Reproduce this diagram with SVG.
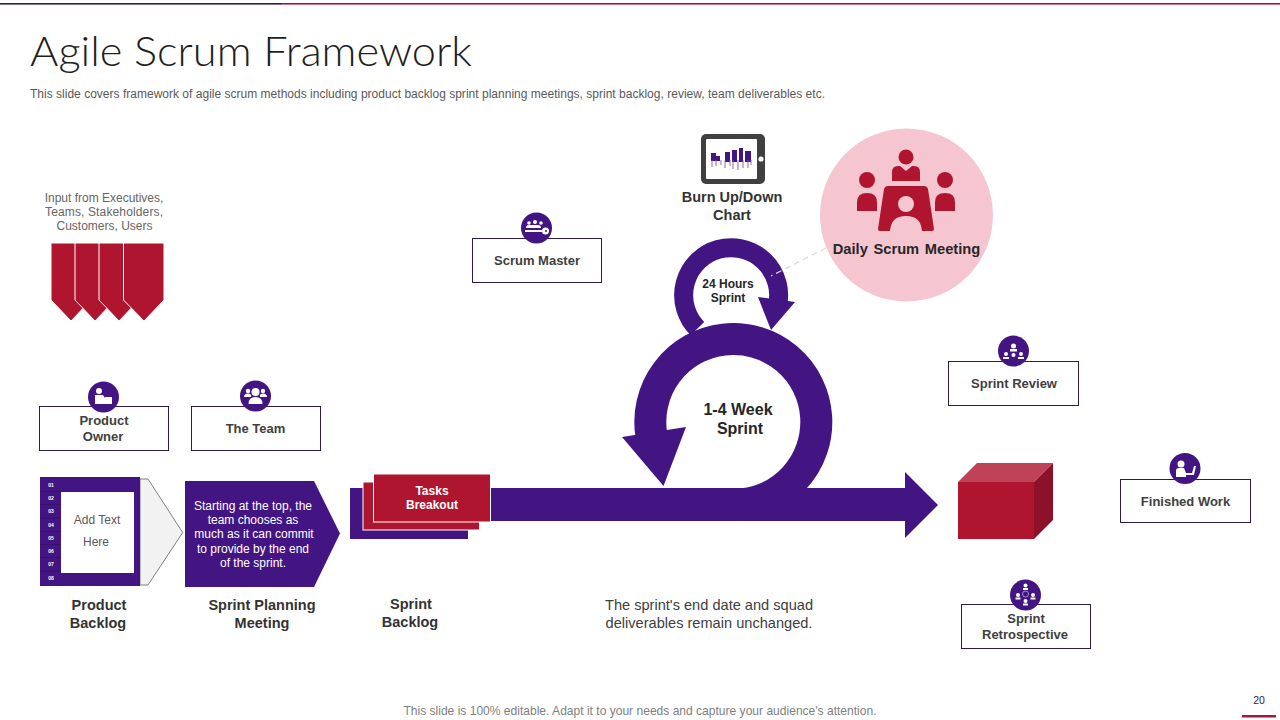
<svg xmlns="http://www.w3.org/2000/svg" width="1280" height="720" viewBox="0 0 1280 720">
<defs>
<style>
text{font-family:"Liberation Sans",Arial,sans-serif;text-anchor:middle}
.box{fill:#fff;stroke:#2e1a52;stroke-width:1}
.lbl{font-size:13px;font-weight:700;fill:#404040}
.cap{font-size:14.5px;font-weight:700;fill:#333}
.dark{fill:#431582}
.red{fill:#b0152f}
.wh{fill:#fff}
.num{font-size:5px;font-weight:700;fill:#fff}
.body{font-size:12px;fill:#fff}
.grey{font-size:12px;fill:#666}
</style>
</defs>
<rect width="1280" height="720" fill="#fff"/>
<g id="topbar"><rect x="0" y="3" width="282" height="1.6" fill="#2e1a52"/><rect x="282" y="3" width="998" height="1.6" fill="#a5173f"/></g>
<text x="30" y="66" textLength="442" lengthAdjust="spacingAndGlyphs" style="font-family:'Lato','Liberation Sans',sans-serif;font-size:42px;font-weight:300;text-anchor:start;fill:#1f1f1f">Agile Scrum Framework</text>
<text x="30" y="98" textLength="795" lengthAdjust="spacing" style="font-size:12px;text-anchor:start;fill:#595959">This slide covers framework of agile scrum methods including product backlog sprint planning meetings, sprint backlog, review, team deliverables etc.</text>

<g id="connectors">
<rect x="488" y="488" width="418" height="33" class="dark"/>
<polygon points="905,472 938,505 905,538" class="dark"/>
<path d="M734 505A83 83 0 1 0 651.500 436" fill="none" stroke="#431582" stroke-width="32"/>
<polygon points="622,437 686,427 663.500,486" class="dark"/>
<path d="M697.400 328.600A47.500 47.500 0 1 1 777.400 306" fill="none" stroke="#431582" stroke-width="19"/>
<polygon points="758,297 795,302 771,330" class="dark"/>
<line x1="826" y1="248" x2="771" y2="276" stroke="#d9d9d9" stroke-width="1.200" stroke-dasharray="6 4"/>
</g>
<text class="lbl" x="728" y="288" style="font-size:12px;fill:#262626">24 Hours</text>
<text class="lbl" x="728" y="302" style="font-size:12px;fill:#262626">Sprint</text>
<text class="lbl" x="738" y="415" style="font-size:16px;fill:#262626">1-4 Week</text>
<text class="lbl" x="740" y="434" style="font-size:16px;fill:#262626">Sprint</text>

<g id="input">
<text class="grey" x="104" y="202">Input from Executives,</text>
<text class="grey" x="104" y="216" textLength="118">Teams, Stakeholders,</text>
<text class="grey" x="104.500" y="230">Customers, Users</text>
<g class="red" stroke="#fff" stroke-width="1">
<polygon points="51,243 91,243 91,300 71,321 51,300"/>
<polygon points="75,243 115,243 115,300 95,321 75,300"/>
<polygon points="99,243 139,243 139,300 119,321 99,300"/>
<polygon points="123.500,243 164,243 164,300 144,321 123.500,300"/>
</g>
</g>

<g id="product-owner">
<rect class="box" x="39.500" y="406.500" width="129" height="44"/>
<circle class="dark" cx="103.500" cy="397" r="15.500"/>
<g class="wh"><circle cx="99" cy="391" r="3"/><path d="M95 395h8l2 3v6H95z"/><rect x="105" y="397" width="7" height="7"/></g>
<text class="lbl" x="104" y="425">Product</text><text class="lbl" x="103" y="441">Owner</text>
</g>
<g id="the-team">
<rect class="box" x="191.500" y="406.500" width="129" height="44"/>
<circle class="dark" cx="255.500" cy="396" r="15.500"/>
<g class="wh"><circle cx="255.500" cy="392" r="4"/><path d="M248.500 404q0-7 7-7t7 7z"/><circle cx="248" cy="391" r="2.200"/><path d="M244 397q0-3.500 4-3.500t3 3.500z"/><circle cx="263" cy="391" r="2.200"/><path d="M260 397q-1-3.500 3-3.500t4 3.500z"/></g>
<text class="lbl" x="255.500" y="433">The Team</text>
</g>
<g id="scrum-master">
<rect class="box" x="472.500" y="238.500" width="129" height="44"/>
<circle class="dark" cx="536.500" cy="228" r="15.500"/>
<g class="wh"><circle cx="529" cy="223" r="1.800"/><circle cx="535" cy="222" r="2"/><circle cx="541" cy="223" r="1.800"/><path d="M526 228q0-3 3-3h9q3 0 3 3z"/><rect x="525" y="230" width="17" height="2"/><circle cx="545.500" cy="231" r="3.500"/></g>
<circle class="dark" cx="546" cy="231" r="1"/>
<text class="lbl" x="537" y="265">Scrum Master</text>
</g>

<g id="product-backlog">
<polygon points="140,479 148,479 182.700,532.500 148,585 140,585" fill="#f2f2f2" stroke="#808080" stroke-width="1"/>
<rect class="dark" x="40" y="477" width="100" height="109"/>
<rect class="wh" x="61" y="492" width="73" height="81"/>
<path d="M40 491.500H61M40 504.500H61M40 518H61M40 531.500H61M40 544.500H61M40 557.500H61M40 571H61" stroke="#35106a" stroke-width="0.800"/>
<text class="num" x="51" y="487">01</text><text class="num" x="51" y="500">02</text><text class="num" x="51" y="513">03</text><text class="num" x="51" y="527">04</text><text class="num" x="51" y="540">05</text><text class="num" x="51" y="553">06</text><text class="num" x="51" y="566">07</text><text class="num" x="51" y="580">08</text>
<text x="97" y="524" style="font-size:12px;fill:#595959">Add Text</text>
<text x="96" y="546" style="font-size:12px;fill:#595959">Here</text>
<text class="cap" x="99" y="610">Product</text><text class="cap" x="98" y="628">Backlog</text>
</g>
<g id="sprint-planning">
<polygon class="dark" points="185,481 314,481 340,533.500 314,587 185,587"/>
<text class="body" x="253" y="510">Starting at the top, the</text>
<text class="body" x="253" y="524">team chooses as</text>
<text class="body" x="254" y="538">much as it can commit</text>
<text class="body" x="253" y="553">to provide by the end</text>
<text class="body" x="253" y="567">of the sprint.</text>
<text class="cap" x="262" y="610">Sprint Planning</text><text class="cap" x="262" y="628">Meeting</text>
</g>
<g id="sprint-backlog">
<rect class="dark" x="350" y="488" width="118" height="51"/>
<rect class="red" x="363" y="482" width="116.500" height="48" stroke="#fff" stroke-width="1"/>
<rect class="red" x="373.500" y="474" width="117" height="48" stroke="#fff" stroke-width="1"/>
<text class="lbl" x="432" y="495" style="font-size:12px;fill:#fff">Tasks</text>
<text class="lbl" x="432" y="509" style="font-size:12px;fill:#fff">Breakout</text>
<text class="cap" x="411" y="609">Sprint</text><text class="cap" x="410" y="627">Backlog</text>
</g>

<g id="burn-chart">
<rect x="701" y="134" width="64" height="50" rx="5" fill="#404040"/>
<rect class="wh" x="706" y="139" width="51" height="40" rx="1"/>
<circle class="wh" cx="761" cy="159" r="2.600"/>
<path d="M711 153h5v8h-5zM716 156h4v5h-4zM725 152h5v10h-5zM732 150h5v12h-5zM739 148h4v14h-4zM745 151h6v11h-6z" class="dark"/>
<path d="M712 160v7M716 160v6M721 160v5M725 160v8M730 160v6M733 160v9M738 160v10M743 160v8M748 160v8M751 160v5" stroke="#7a5aa8" stroke-width="0.900"/>
<text class="cap" x="732" y="202">Burn Up/Down</text><text class="cap" x="732" y="220">Chart</text>
</g>
<g id="daily-scrum">
<circle cx="906.500" cy="215" r="86.500" fill="#f6c6d0"/>
<g class="red">
<circle cx="906" cy="157" r="7.500"/><path d="M892 181v-9q0-6 6-6h2l6 5 6-5h2q6 0 6 6v9z"/>
<circle cx="867" cy="180" r="8"/><path d="M857 211v-9q0-9 10-9t10 9v9z"/>
<circle cx="945" cy="180" r="8"/><path d="M935 211v-9q0-9 10-9t10 9v9z"/>
<path d="M888 186h36q3 0 4 3l6 40q0 2-2 2h-10q-1-15-16-15t-16 15h-10q-2 0-2-2l6-40q1-3 4-3z"/>
</g>
<circle cx="906" cy="204" r="8" fill="#f6c6d0"/>
<text class="lbl" x="906.500" y="254" style="font-size:14.700px;fill:#262626;word-spacing:1.500px">Daily Scrum Meeting</text>
</g>

<g id="sprint-review">
<rect class="box" x="948.500" y="361.500" width="130" height="44"/>
<circle class="dark" cx="1013.500" cy="351" r="15.500"/>
<g class="wh"><circle cx="1013.500" cy="346" r="2.500"/><rect x="1010" y="349" width="7" height="2.500"/><circle cx="1006" cy="354" r="2"/><rect x="1003" y="357" width="6" height="2"/><circle cx="1021" cy="354" r="2"/><rect x="1018" y="357" width="6" height="2"/><circle cx="1013.500" cy="355" r="2"/></g>
<text class="lbl" x="1014" y="388">Sprint Review</text>
</g>
<g id="deliverable-box">
<polygon points="958,482 977,463 1053,463 1034,482" fill="#bf4358"/>
<polygon points="1034,482 1053,463 1053,520 1034,539" fill="#8d1129"/>
<rect class="red" x="958" y="482" width="76" height="57"/>
</g>
<g id="finished-work">
<rect class="box" x="1120.500" y="479.500" width="130" height="43"/>
<circle class="dark" cx="1185" cy="468.500" r="15.500"/>
<g class="wh"><circle cx="1181" cy="464" r="3.500"/><path d="M1176 477v-6q0-3 3-3h5l2 5h6l2-7h2l-2 9h-8v2z"/></g>
<text class="lbl" x="1185.500" y="506">Finished Work</text>
</g>
<g id="sprint-retrospective">
<rect class="box" x="961.500" y="604.500" width="129" height="44"/>
<circle class="dark" cx="1025.500" cy="595" r="15.500"/>
<g class="wh"><circle cx="1025.500" cy="585.500" r="2"/><rect x="1023" y="588" width="5" height="2"/><circle cx="1018" cy="595" r="2"/><rect x="1015.500" y="597.500" width="5" height="2"/><circle cx="1033" cy="595" r="2"/><rect x="1030.500" y="597.500" width="5" height="2"/><circle cx="1025.500" cy="601" r="2"/><rect x="1023" y="603.500" width="5" height="2"/></g>
<circle cx="1025.500" cy="594" r="3" fill="none" stroke="#cbbbe3" stroke-width="0.700"/>
<text class="lbl" x="1026" y="623">Sprint</text><text class="lbl" x="1025" y="639">Retrospective</text>
</g>

<text x="709" y="610" style="font-size:14.600px;fill:#404040">The sprint's end date and squad</text>
<text x="709" y="628" style="font-size:14.600px;fill:#404040">deliverables remain unchanged.</text>
<text x="640" y="715" style="font-size:12.050px;fill:#7f7f7f">This slide is 100% editable. Adapt it to your needs and capture your audience's attention.</text>
<text x="1259" y="704" style="font-size:10.500px;fill:#2e1a52">20</text>
<rect x="1242" y="715" width="34" height="2.500" fill="#a5173f"/>
</svg>
